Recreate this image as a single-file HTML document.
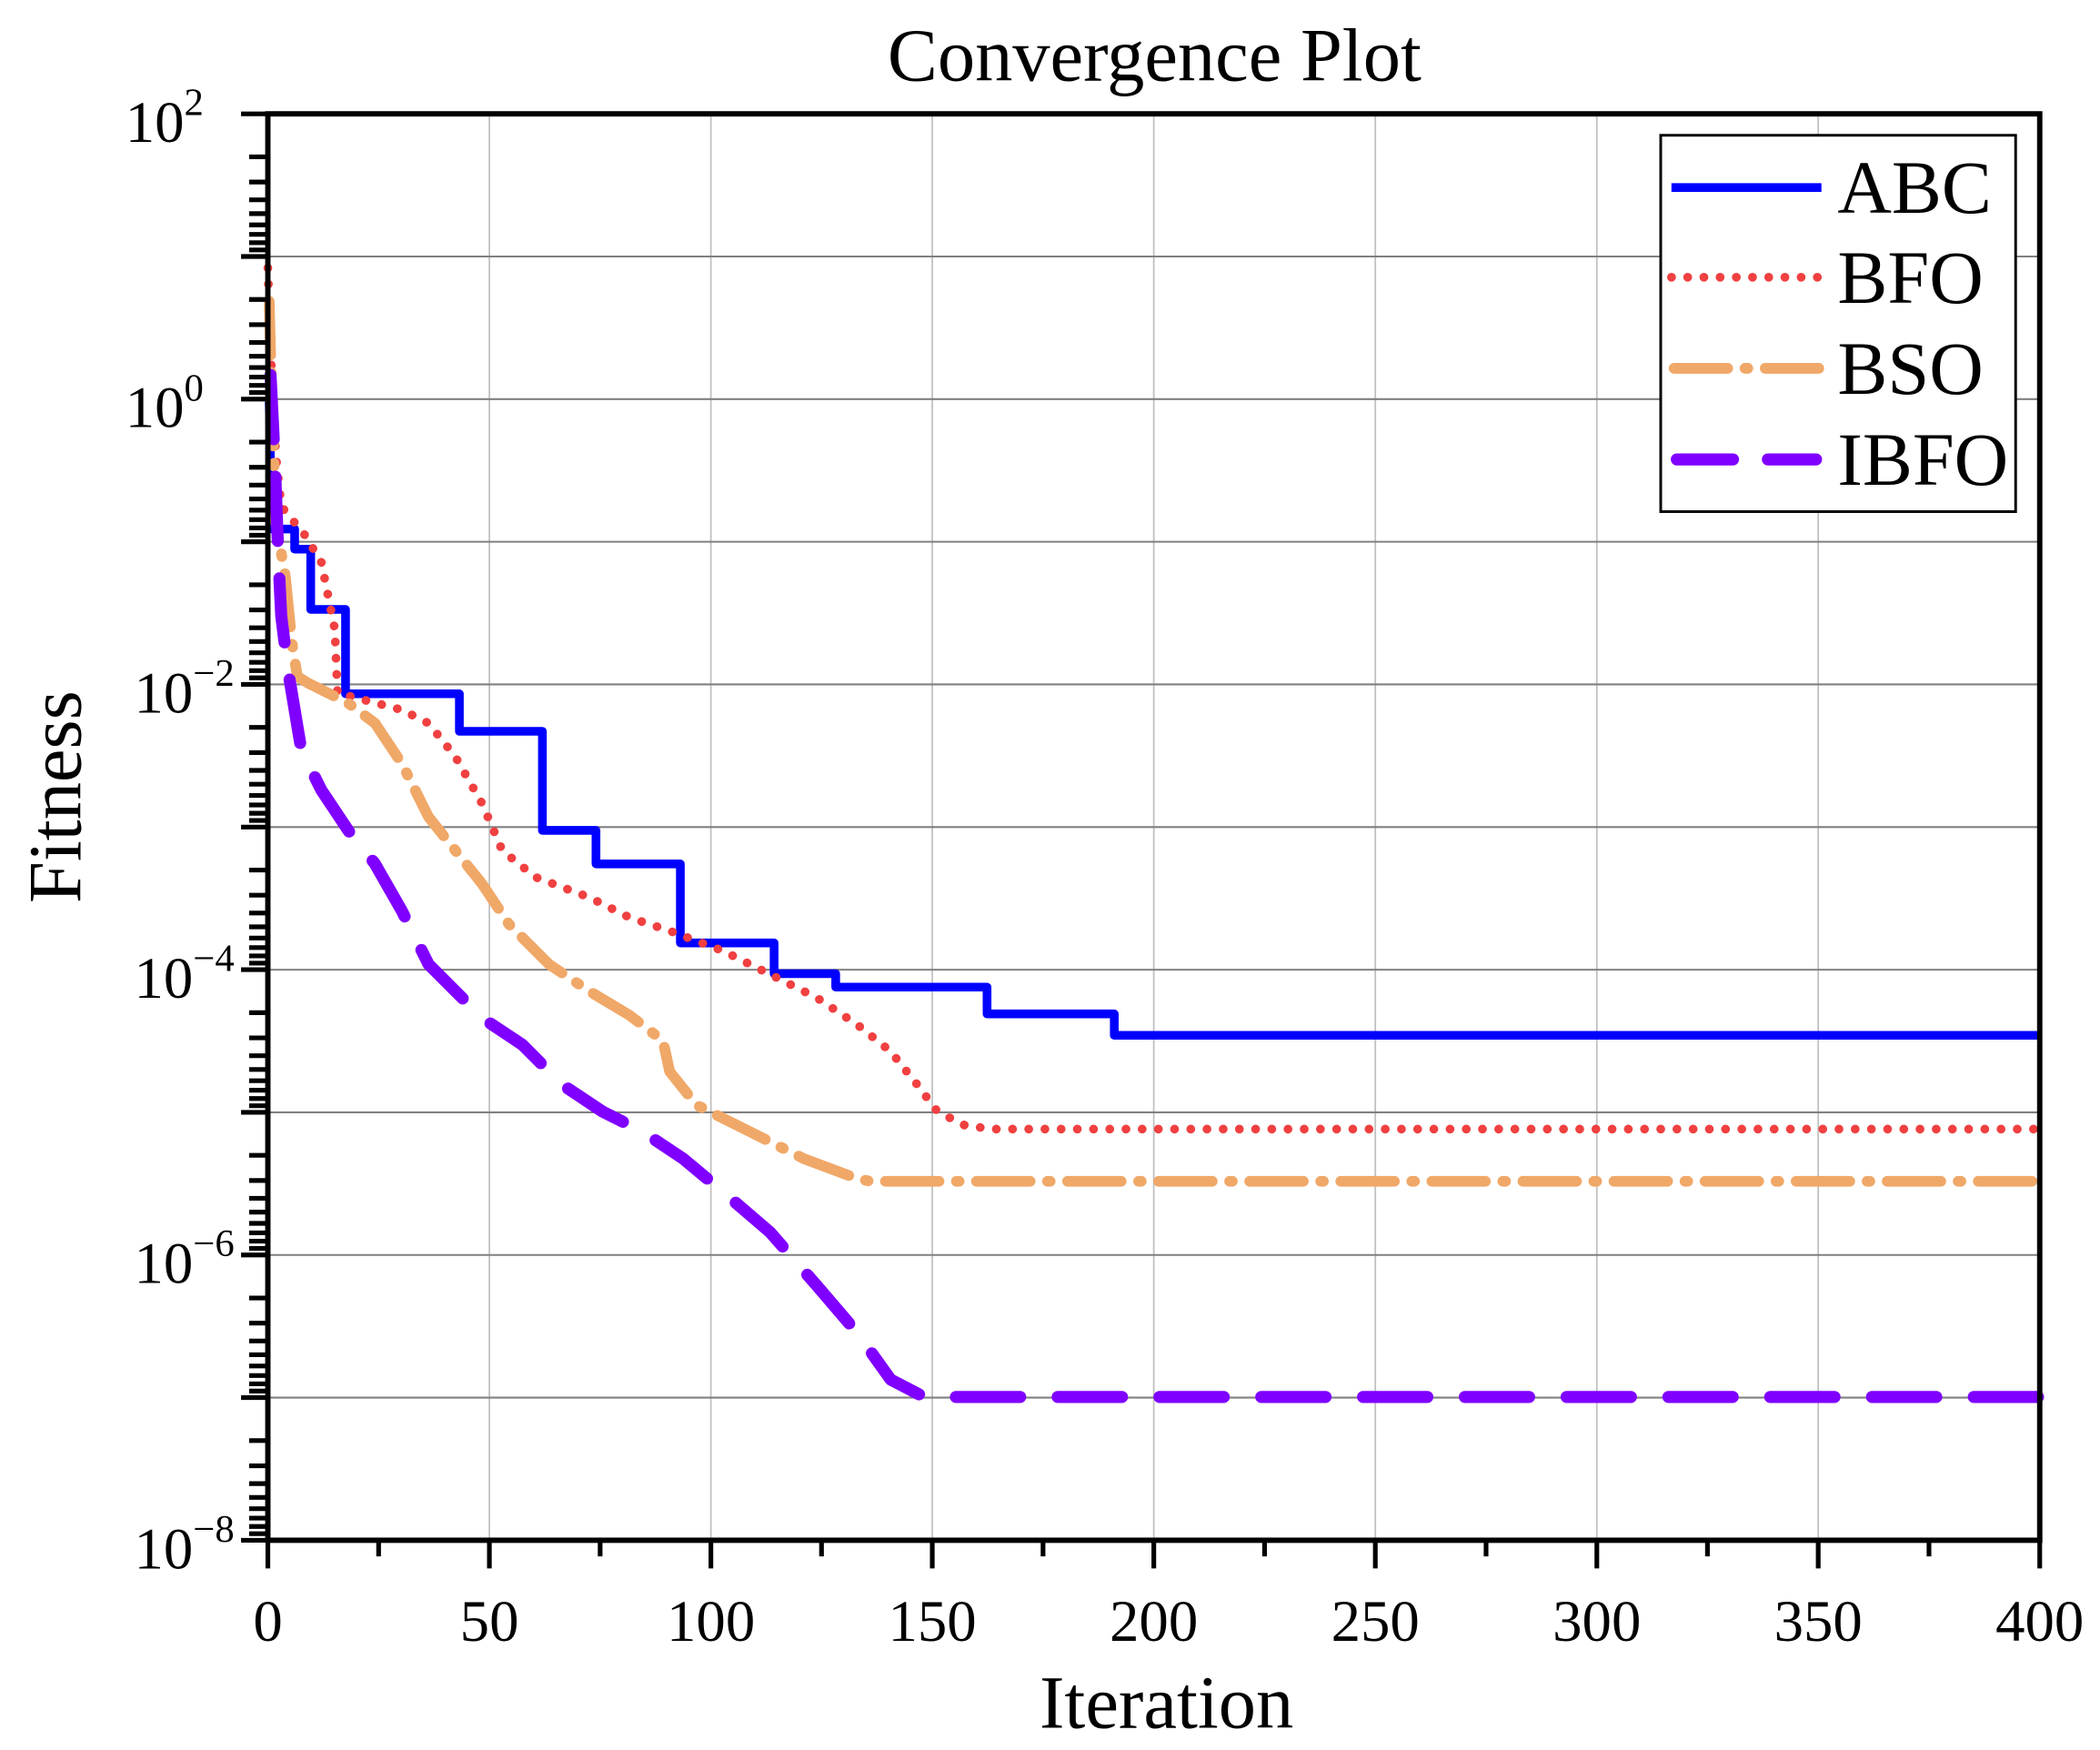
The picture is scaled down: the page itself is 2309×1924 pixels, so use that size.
<!DOCTYPE html>
<html><head><meta charset="utf-8"><style>html,body{margin:0;padding:0;background:#fff}svg{display:block}</style></head><body>
<svg width="2309" height="1924" viewBox="0 0 1568 1306.6" preserveAspectRatio="none" xmlns="http://www.w3.org/2000/svg" font-family="'Liberation Serif', serif">
<rect width="1568" height="1307" fill="#fff"/>
<g stroke="#c0c0c0" stroke-width="1.2">
<line x1="365.4" y1="85" x2="365.4" y2="1150"/><line x1="530.8" y1="85" x2="530.8" y2="1150"/><line x1="696.1" y1="85" x2="696.1" y2="1150"/><line x1="861.5" y1="85" x2="861.5" y2="1150"/><line x1="1026.9" y1="85" x2="1026.9" y2="1150"/><line x1="1192.3" y1="85" x2="1192.3" y2="1150"/><line x1="1357.6" y1="85" x2="1357.6" y2="1150"/>
</g>
<g stroke="#808080" stroke-width="1.4">
<line x1="200" y1="191.5" x2="1523" y2="191.5"/><line x1="200" y1="298" x2="1523" y2="298"/><line x1="200" y1="404.5" x2="1523" y2="404.5"/><line x1="200" y1="511" x2="1523" y2="511"/><line x1="200" y1="617.5" x2="1523" y2="617.5"/><line x1="200" y1="724" x2="1523" y2="724"/><line x1="200" y1="830.5" x2="1523" y2="830.5"/><line x1="200" y1="937" x2="1523" y2="937"/><line x1="200" y1="1043.5" x2="1523" y2="1043.5"/>
</g>
<g fill="none" stroke-linejoin="round">
<path d="M201,300 L203,395 H220 V410 H232 V455 H258 V518 H343 V546 H405 V620 H445 V645 H508 V704 H578 V727 H624 V737 H737 V757 H832 V773 H1523" stroke="#0000ff" stroke-width="6.5"/>
<path d="M200,200 L202,260 L206,340 L210,378 L228,400 L240,420 L250,470 L252,518 L262,520 L300,530 L320,540 L340,565 L360,600 L375,635 L400,655 L440,670 L470,685 L500,695 L540,710 L580,730 L610,745 L640,765 L665,785 L685,810 L700,830 L720,840 L740,843 L1523,843" stroke="#f04040" stroke-width="6.5" stroke-dasharray="0.1 12" stroke-linecap="round"/>
<path d="M201,225 L203,300 L206,390 L213,430 L218,480 L222,505 L230,510 L260,525 L280,540 L300,570 L320,610 L340,635 L360,660 L380,690 L410,720 L440,740 L470,758 L495,777 L500,800 L520,825 L560,845 L600,865 L640,880 L650,882 L1523,882" stroke="#f0a868" stroke-width="8" stroke-dasharray="40 13 2 13" stroke-linecap="round"/>
<path d="M202,280 L205,340 L208,420 L210,460 L215,500 L225,560 L240,590 L260,620 L280,645 L300,680 L320,720 L340,740 L360,760 L390,780 L420,810 L450,830 L480,845 L510,865 L540,890 L575,920 L610,960 L640,995 L665,1030 L690,1043 L1523,1043" stroke="#8000ff" stroke-width="9" stroke-dasharray="48 28" stroke-linecap="round"/>
</g>
<rect x="200" y="85" width="1323" height="1065" fill="none" stroke="#000" stroke-width="4"/>
<g stroke="#000" stroke-width="3.5">
<path d="M180,85H200M180,191.5H200M180,298H200M180,404.5H200M180,511H200M180,617.5H200M180,724H200M180,830.5H200M180,937H200M180,1043.5H200M180,1150H200"/>
<path id="mt" d="M186,117.1H200M186,135.9H200M186,149.2H200M186,159.5H200M186,167.9H200M186,175H200M186,181.2H200M186,186.6H200"/>
<use href="#mt" y="106.5"/><use href="#mt" y="213"/><use href="#mt" y="319.5"/><use href="#mt" y="426"/><use href="#mt" y="532.5"/><use href="#mt" y="639"/><use href="#mt" y="745.5"/><use href="#mt" y="852"/><use href="#mt" y="958.5"/>
<path d="M200,1150V1171M365.4,1150V1171M530.8,1150V1171M696.1,1150V1171M861.5,1150V1171M1026.9,1150V1171M1192.3,1150V1171M1357.6,1150V1171M1523,1150V1171"/>
<path d="M282.7,1150V1162M448.1,1150V1162M613.4,1150V1162M778.8,1150V1162M944.2,1150V1162M1109.6,1150V1162M1274.9,1150V1162M1440.3,1150V1162"/>
</g>
<g font-size="44" text-anchor="end" fill="#000">
<text x="152" y="106">10<tspan dy="-20" font-size="29">2</tspan></text>
<text x="152" y="319">10<tspan dy="-20" font-size="29">0</tspan></text>
<text x="175" y="532">10<tspan dy="-20" font-size="29">−2</tspan></text>
<text x="175" y="745">10<tspan dy="-20" font-size="29">−4</tspan></text>
<text x="175" y="958">10<tspan dy="-20" font-size="29">−6</tspan></text>
<text x="175" y="1171">10<tspan dy="-20" font-size="29">−8</tspan></text>
</g>
<g font-size="44" text-anchor="middle" fill="#000">
<text x="200" y="1225">0</text><text x="365.4" y="1225">50</text><text x="530.8" y="1225">100</text><text x="696.1" y="1225">150</text><text x="861.5" y="1225">200</text><text x="1026.9" y="1225">250</text><text x="1192.3" y="1225">300</text><text x="1357.6" y="1225">350</text><text x="1523" y="1225">400</text>
</g>
<text x="862" y="60" font-size="56" text-anchor="middle">Convergence Plot</text>
<text x="871" y="1290" font-size="56" text-anchor="middle">Iteration</text>
<text transform="translate(60,595) rotate(-90)" font-size="56" text-anchor="middle">Fitness</text>
<rect x="1240" y="101" width="265" height="281" fill="#fff" stroke="#000" stroke-width="2"/>
<g fill="none">
<line x1="1248" y1="140" x2="1360" y2="140" stroke="#0000ff" stroke-width="6.5"/>
<line x1="1248" y1="207" x2="1360" y2="207" stroke="#f04040" stroke-width="6.5" stroke-dasharray="0.1 12" stroke-linecap="round"/>
<line x1="1250" y1="275" x2="1358" y2="275" stroke="#f0a868" stroke-width="8" stroke-dasharray="40 13 2 13" stroke-linecap="round"/>
<line x1="1252" y1="343" x2="1356" y2="343" stroke="#8000ff" stroke-width="9" stroke-dasharray="42 26" stroke-linecap="round"/>
</g>
<g font-size="56" fill="#000">
<text x="1372" y="159">ABC</text><text x="1372" y="226">BFO</text><text x="1372" y="294">BSO</text><text x="1372" y="362">IBFO</text>
</g>
</svg>
</body></html>
